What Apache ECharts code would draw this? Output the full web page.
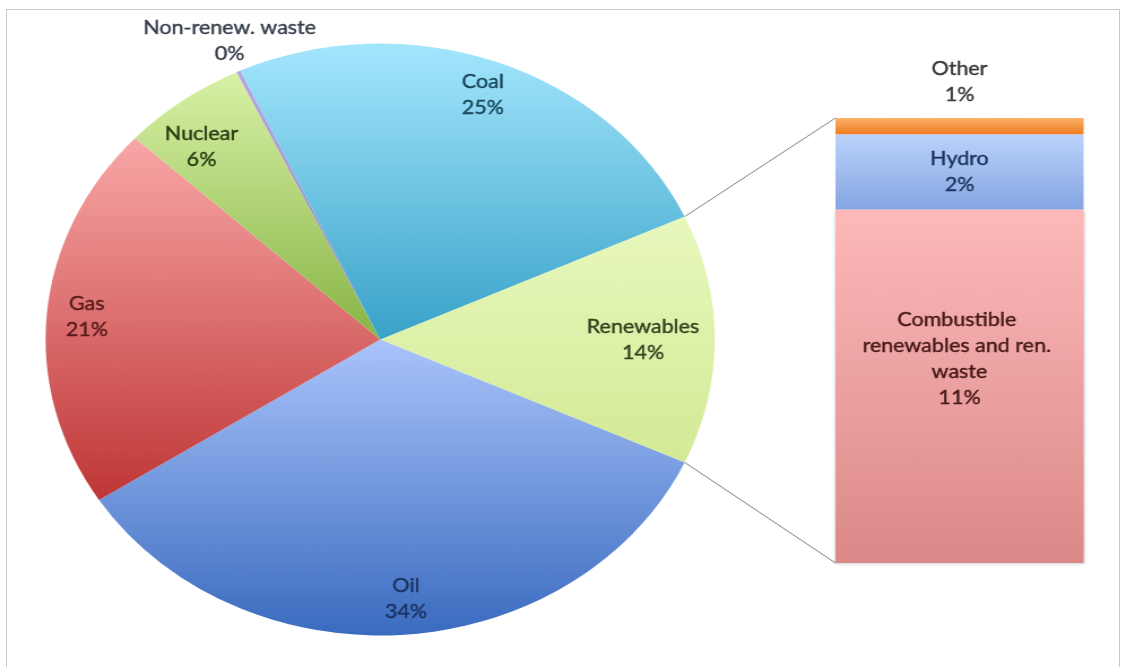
<!DOCTYPE html>
<html>
<head>
<meta charset="utf-8">
<script src="https://cdn.jsdelivr.net/npm/echarts@6/dist/echarts.min.js"></script>
<style>
  html, body { margin: 0; padding: 0; background: #ffffff; overflow: hidden; }
  #frame { position: absolute; left: 6px; top: 9px; width: 1112px; height: 720px; border: 1px solid #c8c8c8; }
  #chart { position: absolute; left: 0; top: 0; width: 996px; height: 667px; transform: scaleX(1.1305); transform-origin: 0 0; }
</style>
</head>
<body>
<div id="frame"></div>
<div id="chart"></div>
<script>
// ---- data ----
const pieNames  = ['Renewables', 'Oil', 'Gas', 'Nuclear', 'Non-renew. waste', 'Coal'];
const pieValues = [13.6, 34, 21, 6, 0.2, 25];
const barCategory = ['Renewables'];
const barNames  = ['Combustible renewables and ren. waste', 'Hydro', 'Other'];
const barValues = [10.8, 2.3, 0.5];

// ---- styles ----
const pieTop    = ['#e8f8bd', '#aac4fb', '#f9a7a7', '#d9f1a6', '#b6a9e0', '#a3e6fd'];
const pieBottom = ['#d3ea96', '#3a6bbf', '#bf3636', '#87b545', '#8a7cc4', '#39a2c8'];
const pieText   = ['#34421f', '#1b325e', '#561a1a', '#283b12', '#353e4a', '#1a4759'];
const barTop    = ['#fdb9b9', '#bad3fb', '#fbb26a'];
const barBottom = ['#db8988', '#85a5e2', '#ef7b20'];
const barText   = ['#451818', '#1c335e', '#383838'];

const FONT = 'Lato';
const CX = 336.3, CY = 339.5, R = 296;
const GRID = { left: 739, top: 118, width: 219.5, height: 445 };

const total = pieValues.reduce((a, b) => a + b, 0);
const barTotal = barValues.reduce((a, b) => a + b, 0);
const startAngle = pieValues[0] / total * 180;

function grad(top, bottom) {
  return new echarts.graphic.LinearGradient(0, 0, 0, 1, [
    { offset: 0, color: top }, { offset: 1, color: bottom }
  ]);
}

const chart = echarts.init(document.getElementById('chart'), null, { renderer: 'canvas' });

const pieData = pieNames.map((n, i) => ({
  name: n, value: pieValues[i],
  itemStyle: { color: grad(pieTop[i], pieBottom[i]) }
}));
const labelData = pieNames.map((n, i) => ({
  name: n, value: pieValues[i],
  label: { color: pieText[i], textBorderColor: pieText[i] }
}));
const barSeries = barNames.map((n, i) => ({
  type: 'bar', name: n, stack: 'ren', barWidth: '100%',
  data: [barValues[i]],
  itemStyle: { color: grad(barTop[i], barBottom[i]),
               shadowColor: i === 0 ? 'rgba(0,0,0,0.25)' : 'transparent', shadowBlur: i === 0 ? 3 : 0, shadowOffsetY: 1 },
  label: {
    show: true,
    position: i === 2 ? 'top' : 'inside',
    distance: 10,
    offset: i === 0 ? [0, -27] : [0, 0],
    width: 180, overflow: 'break',
    fontFamily: FONT, fontSize: 19, lineHeight: 26, color: barText[i],
    textBorderColor: barText[i], textBorderWidth: 0.4,
    formatter: p => n + '\n' + Math.round(p.value / total * 100) + '%'
  },
  silent: true
}));

chart.setOption({
  animation: false,
  backgroundColor: 'transparent',
  grid: { left: GRID.left, top: GRID.top, width: GRID.width, height: GRID.height },
  xAxis: { type: 'category', data: barCategory, show: false },
  yAxis: { type: 'value', min: 0, max: barTotal, show: false },
  series: [
    {
      type: 'pie', center: [CX, CY], radius: [0, R], startAngle: startAngle, clockwise: true,
      silent: true, avoidLabelOverlap: false,
      label: { show: false }, labelLine: { show: false },
      data: pieData
    },
    {
      type: 'pie', center: [CX, CY], radius: [R * 0.74, R], startAngle: startAngle, clockwise: true,
      silent: true, avoidLabelOverlap: false,
      itemStyle: { color: 'transparent' },
      label: {
        show: true, position: 'inside',
        fontFamily: FONT, fontSize: 19, lineHeight: 26, textBorderWidth: 0.4,
        formatter: p => p.name + '\n' + Math.round(p.percent) + '%'
      },
      labelLine: { show: false },
      labelLayout: function (p) {
        const name = pieNames[p.dataIndex];
        if (name === 'Non-renew. waste') {
          return { x: p.rect.x - 6, y: p.rect.y - 4, align: 'center', verticalAlign: 'bottom' };
        }
        if (name === 'Renewables') return { dx: -14 };
        if (name === 'Nuclear') return { dx: -2, dy: 8.5 };
        if (name === 'Oil') return { dx: 2 };
        return {};
      },
      data: labelData
    }
  ].concat(barSeries)
});

// connector lines from the renewables slice to the bar
const a = startAngle * Math.PI / 180;
const topPt = chart.convertToPixel({ gridIndex: 0 }, [0, barTotal]);
const botPt = chart.convertToPixel({ gridIndex: 0 }, [0, 0]);
chart.setOption({
  graphic: [
    { type: 'line', silent: true, shape: { x1: CX + R * Math.cos(a), y1: CY - R * Math.sin(a), x2: GRID.left, y2: topPt[1] },
      style: { stroke: '#7f7f7f', lineWidth: 1 } },
    { type: 'line', silent: true, shape: { x1: CX + R * Math.cos(a), y1: CY + R * Math.sin(a), x2: GRID.left, y2: botPt[1] },
      style: { stroke: '#7f7f7f', lineWidth: 1 } }
  ]
});
</script>
</body>
</html>
